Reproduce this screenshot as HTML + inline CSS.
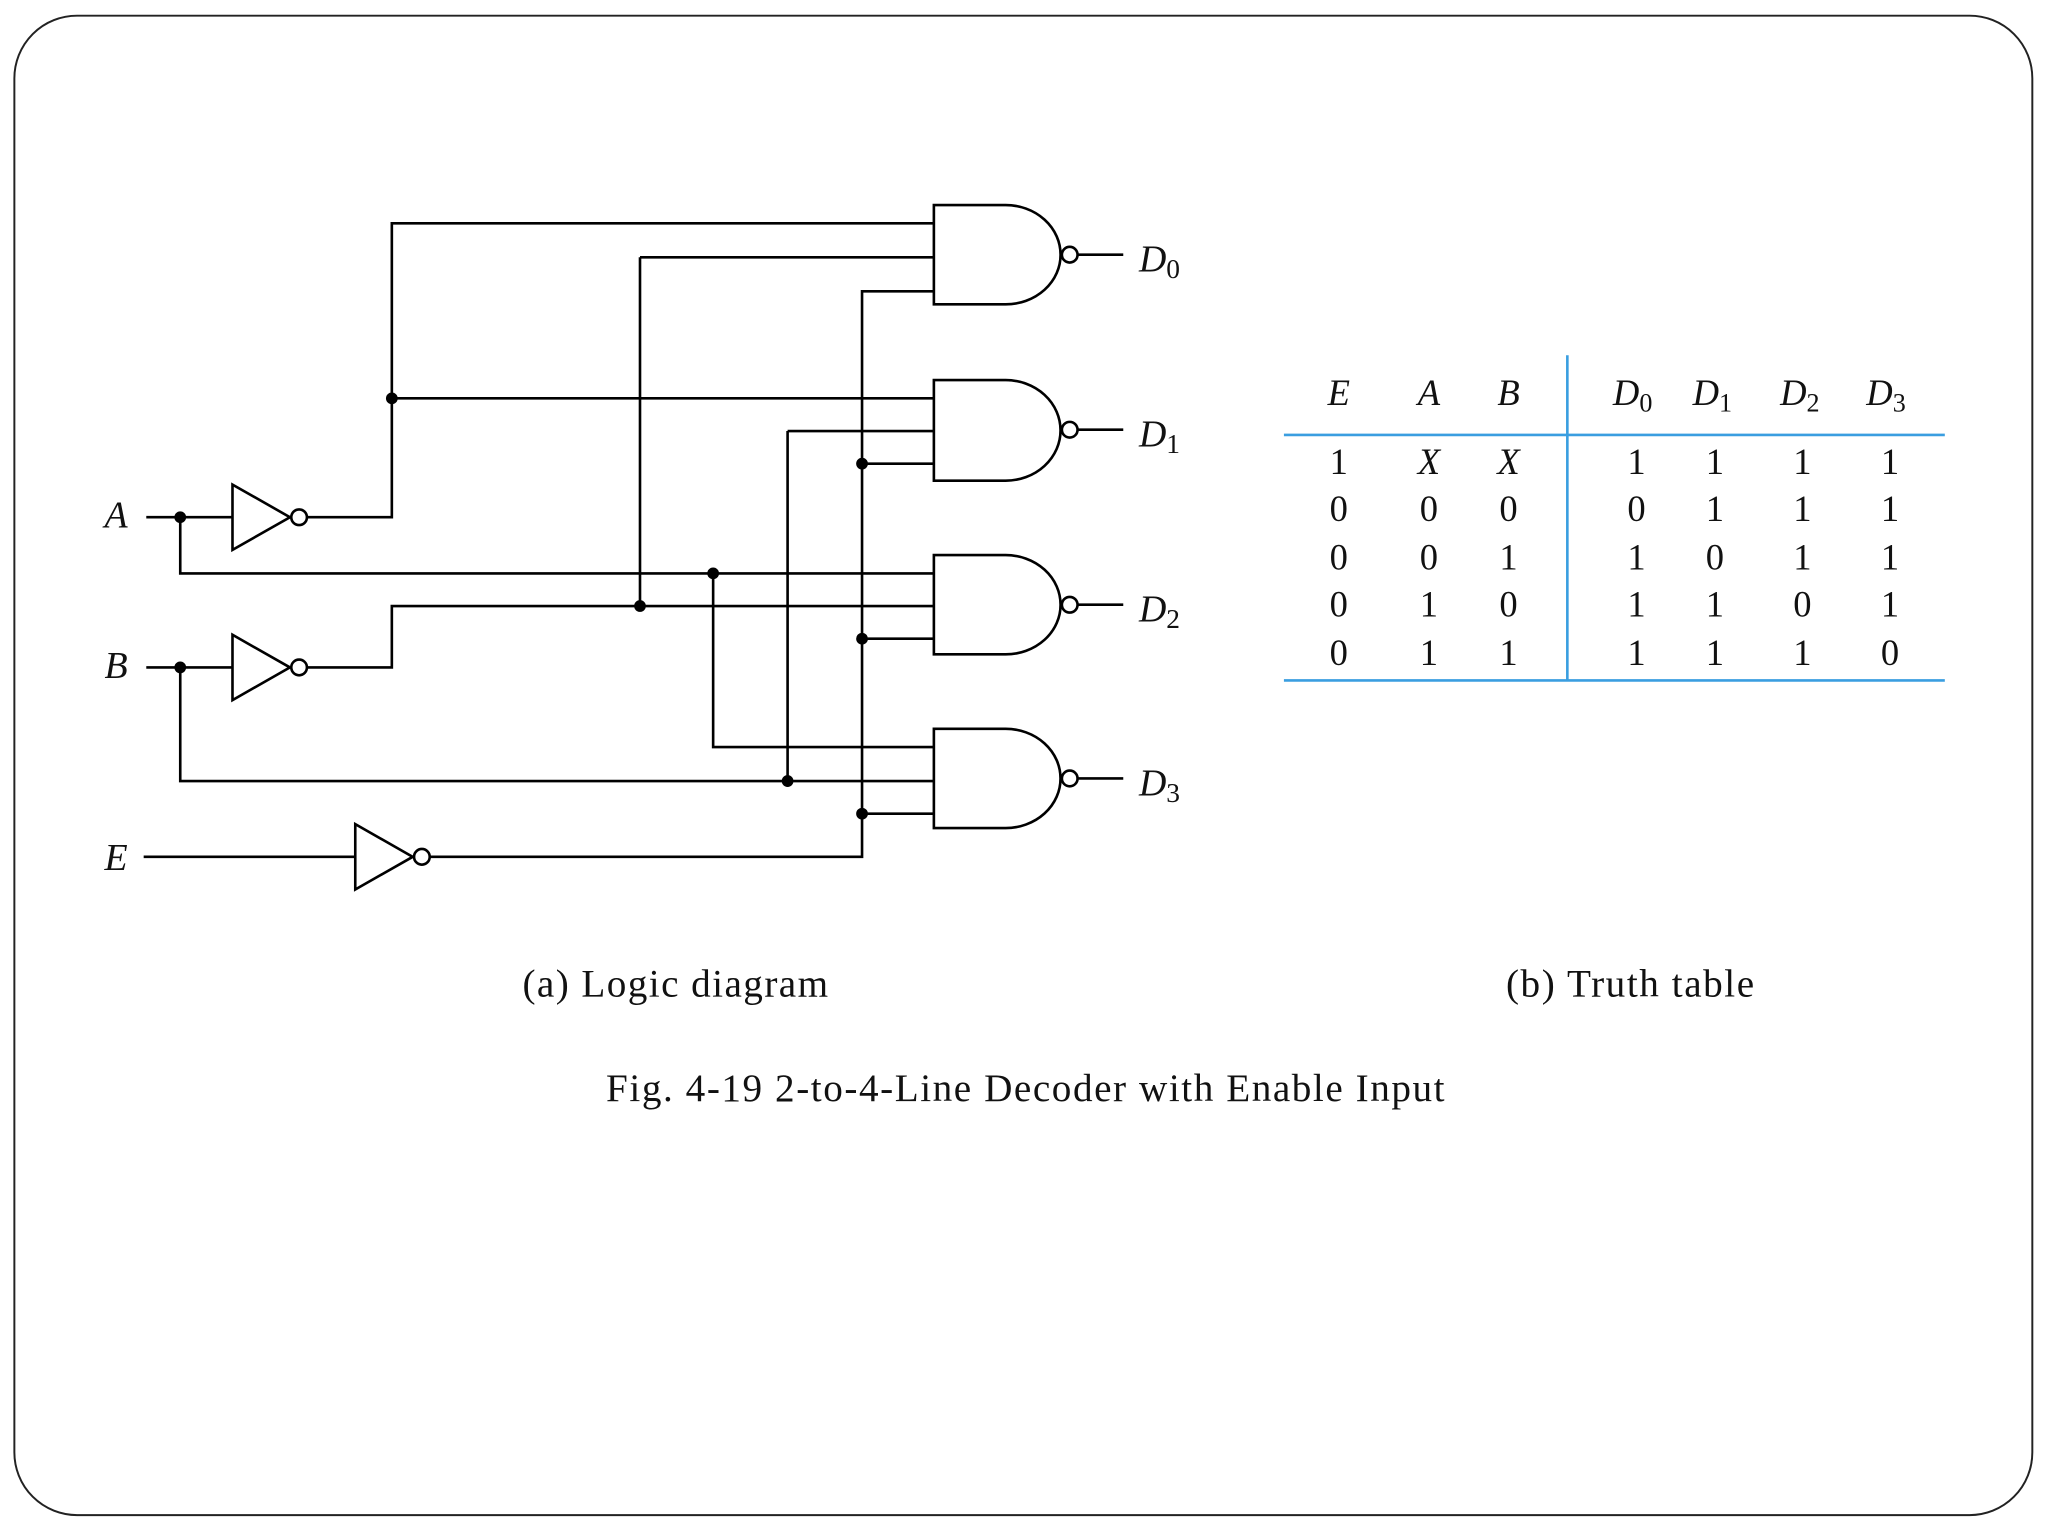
<!DOCTYPE html>
<html><head><meta charset="utf-8"><style>
html,body{margin:0;padding:0;background:#fff;}
svg{display:block;}
text{font-family:"Liberation Serif",serif;fill:#111;}
</style></head><body>
<svg width="2048" height="1536" viewBox="0 0 1568 1176" xmlns="http://www.w3.org/2000/svg">
<rect x="11" y="12" width="1545" height="1148" rx="48" fill="#fff" stroke="#222" stroke-width="1.5"/>
<g fill="none" stroke="#000" stroke-width="2">
<path d="M715 157 H770 A42 38 0 0 1 770 233 H715 Z"/>
<path d="M715 291 H770 A42 38.5 0 0 1 770 368 H715 Z"/>
<path d="M715 425 H770 A42 38 0 0 1 770 501 H715 Z"/>
<path d="M715 558 H770 A42 38 0 0 1 770 634 H715 Z"/>
<circle cx="819" cy="195" r="6"/><circle cx="819" cy="329" r="6"/><circle cx="819" cy="463" r="6"/><circle cx="819" cy="596" r="6"/>
<path d="M825 195H860M825 329H860M825 463H860M825 596H860"/>
<path d="M178 371 L178 421 L222 396 Z"/><circle cx="229" cy="396" r="6"/>
<path d="M178 486 L178 536 L222 511 Z"/><circle cx="229" cy="511" r="6"/>
<path d="M272 631 L272 681 L316 656 Z"/><circle cx="323" cy="656" r="6"/>
<path d="M112 396H178 M235 396H300V171H715"/>
<path d="M300 305H715"/>
<path d="M138 396V439H715"/>
<path d="M112 511H178 M235 511H300V464H715"/>
<path d="M138 511V598H715"/>
<path d="M110 656H272 M329 656H660V223H715"/>
<path d="M490 197H715 M490 197V464"/>
<path d="M603 330H715 M603 330V598"/>
<path d="M546 439V572H715"/>
<path d="M660 355H715 M660 489H715 M660 623H715"/>
</g>
<g fill="#000">
<circle cx="138" cy="396" r="4.5"/><circle cx="138" cy="511" r="4.5"/>
<circle cx="300" cy="305" r="4.5"/><circle cx="490" cy="464" r="4.5"/>
<circle cx="546" cy="439" r="4.5"/><circle cx="603" cy="598" r="4.5"/>
<circle cx="660" cy="355" r="4.5"/><circle cx="660" cy="489" r="4.5"/><circle cx="660" cy="623" r="4.5"/>
</g>
<g font-size="29" font-style="italic">
<text x="80" y="404">A</text><text x="80" y="519">B</text><text x="80" y="666">E</text>
<text x="872" y="208">D<tspan font-style="normal" font-size="21" dy="5">0</tspan></text>
<text x="872" y="342">D<tspan font-style="normal" font-size="21" dy="5">1</tspan></text>
<text x="872" y="476">D<tspan font-style="normal" font-size="21" dy="5">2</tspan></text>
<text x="872" y="609">D<tspan font-style="normal" font-size="21" dy="5">3</tspan></text>
</g>
<g stroke="#3a9ee0" stroke-width="2">
<path d="M983 333H1489 M983 521H1489 M1200 272V521"/>
</g>
<g font-size="28" text-anchor="middle" font-style="italic">
<text x="1025" y="310">E</text><text x="1094" y="310">A</text><text x="1155" y="310">B</text>
<text x="1250" y="310">D<tspan font-style="normal" font-size="20" dy="5">0</tspan></text>
<text x="1311" y="310">D<tspan font-style="normal" font-size="20" dy="5">1</tspan></text>
<text x="1378" y="310">D<tspan font-style="normal" font-size="20" dy="5">2</tspan></text>
<text x="1444" y="310">D<tspan font-style="normal" font-size="20" dy="5">3</tspan></text>
</g>
<g font-size="28" text-anchor="middle">
<text x="1025" y="363">1</text><text x="1094" y="363" font-style="italic">X</text><text x="1155" y="363" font-style="italic">X</text><text x="1253" y="363">1</text><text x="1313" y="363">1</text><text x="1380" y="363">1</text><text x="1447" y="363">1</text>
<text x="1025" y="399">0</text><text x="1094" y="399">0</text><text x="1155" y="399">0</text><text x="1253" y="399">0</text><text x="1313" y="399">1</text><text x="1380" y="399">1</text><text x="1447" y="399">1</text>
<text x="1025" y="436">0</text><text x="1094" y="436">0</text><text x="1155" y="436">1</text><text x="1253" y="436">1</text><text x="1313" y="436">0</text><text x="1380" y="436">1</text><text x="1447" y="436">1</text>
<text x="1025" y="472">0</text><text x="1094" y="472">1</text><text x="1155" y="472">0</text><text x="1253" y="472">1</text><text x="1313" y="472">1</text><text x="1380" y="472">0</text><text x="1447" y="472">1</text>
<text x="1025" y="509">0</text><text x="1094" y="509">1</text><text x="1155" y="509">1</text><text x="1253" y="509">1</text><text x="1313" y="509">1</text><text x="1380" y="509">1</text><text x="1447" y="509">0</text>
</g>
<g font-size="30">
<text x="400" y="763" textLength="234" lengthAdjust="spacing">(a) Logic diagram</text>
<text x="1153" y="763" textLength="190" lengthAdjust="spacing">(b) Truth table</text>
<text x="464" y="843" textLength="642" lengthAdjust="spacing">Fig. 4-19  2-to-4-Line Decoder with Enable Input</text>
</g>
</svg>
</body></html>
